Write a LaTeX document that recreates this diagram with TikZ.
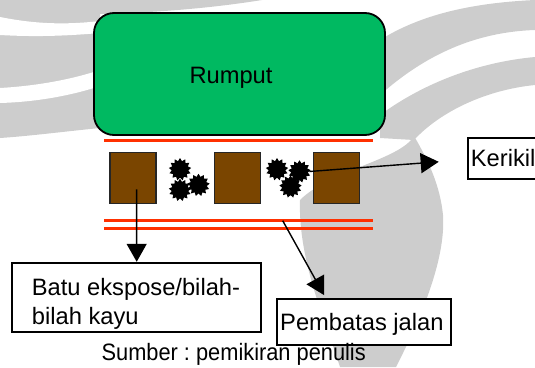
\documentclass[tikz,border=0pt]{standalone}
\usepackage{fontspec}
\setmainfont{Liberation Sans}
\usepackage{graphicx}
\usepackage{tikz}
\usetikzlibrary{arrows.meta,shapes.geometric}
\frenchspacing

\definecolor{rumputgreen}{RGB}{0,185,97}
\definecolor{batabrown}{RGB}{122,69,0}
\definecolor{garisred}{RGB}{255,48,0}
\definecolor{logogray}{RGB}{205,205,205}

\begin{document}
\begin{tikzpicture}[x=1pt,y=-1pt,
    kotak/.style={draw=black,line width=1.8pt,fill=white,inner sep=0pt},
    blok/.style={draw=black!85,line width=1.3pt,fill=batabrown,minimum width=46pt,minimum height=51pt,inner sep=0pt},
    kerikil/.style={star,star points=13,star point ratio=1.35,minimum size=22.5pt,inner sep=0pt,fill=black},
    garis/.style={draw=garisred,line width=3.4pt},
    panah/.style={line width=1.4pt,-{Triangle[length=18pt,width=20pt]}},
    teks/.style={font=\fontsize{23.7}{29.3}\selectfont,inner sep=0pt}]

    \useasboundingbox (0,0) rectangle (535,367);

    % draw watermark in the background
    \fill[logogray] (0,0) -- (262,0) .. controls (200,10) and (140,13) .. (100,14) -- (100,128) .. controls (60,132) and (30,136) .. (0,138) -- cycle;
    \fill[white] (0,17) .. controls (35,24) and (65,25) .. (100,21) -- (100,33) .. controls (65,36) and (35,37) .. (0,35) -- cycle;
    \fill[white] (0,88) .. controls (35,86) and (70,80) .. (100,70) -- (100,86) .. controls (70,96) and (35,102) .. (0,103) -- cycle;
    \fill[logogray] (380,40) .. controls (420,15) and (470,3) .. (535,0) -- (535,30) .. controls (475,32) and (425,55) .. (380,95) -- cycle;
    \fill[logogray] (380,115) .. controls (425,82) and (480,62) .. (535,57) -- (535,85) .. controls (485,90) and (440,112) .. (414,140) -- (380,138) -- cycle;
    \fill[logogray] (414,136) .. controls (400,160) and (330,170) .. (300,200) .. controls (298,260) and (325,320) .. (340,367) -- (396,367) .. controls (420,320) and (446,260) .. (443,215) .. controls (440,185) and (428,160) .. (414,136) -- cycle;

    % draw grass field
    \node[draw=black,line width=1.8pt,fill=rumputgreen,rounded corners=20pt,minimum width=291pt,minimum height=122pt,inner sep=0pt] (rumput) at (239.5,74) {};
    \node[teks,anchor=base] (rumputlabel) at (231,83) {Rumput};

    % draw red edge lines
    \foreach \y in {140.7,220.7,228.7}
    \draw[garis] (104,\y) -- (373,\y);

    % draw blocks and gravel
    \foreach \x/\n in {133/bata1,237.5/bata2,336.7/bata3}
    \node[blok] (\n) at (\x,177.8) {};
    \foreach \x/\y/\n in {180/169.3/k1,180/190/k2,198.5/185/k3,277/169.3/k4,299.5/171.5/k5,290.5/186.7/k6}
    \node[kerikil] (\n) at (\x,\y) {};

    % draw label boxes
    \node[kotak,minimum width=249pt,minimum height=69pt] (batubox) at (136.7,297.2) {};
    \node[teks,anchor=base west] (batulabel) at (31.7,295) {\begin{tabular}[t]{@{}l@{}}Batu ekspose/bilah-\\bilah kayu\end{tabular}};
    \node[kotak,minimum width=174pt,minimum height=46pt] (pembatas) at (363.7,322) {};
    \node[teks,anchor=base west] (pembataslabel) at (280,330.7) {Pembatas jalan};
    \node[kotak,minimum width=80pt,minimum height=41pt,anchor=west] (keri) at (466.7,158.8) {};
    \node[teks,anchor=base west] (kerilabel) at (470.7,166.7) {Kerikil};

    % draw arrows
    \coordinate (batustart) at (136.6,189.3);
    \coordinate (garisstart) at (282.7,220.7);
    \draw[panah] (batustart) -- (batubox.north);
    \draw[panah] (k5.east) -- ([xshift=-28pt,yshift=-3pt]keri.west);
    \draw[panah] (garisstart) -- ([xshift=48.3pt,yshift=3pt]pembatas.north west);

    % source note
    \node[teks,anchor=base] (sumber) at (233.7,360.7) {\scalebox{0.92}[1]{Sumber : pemikiran penulis}};

  \end{tikzpicture}
\end{document}
